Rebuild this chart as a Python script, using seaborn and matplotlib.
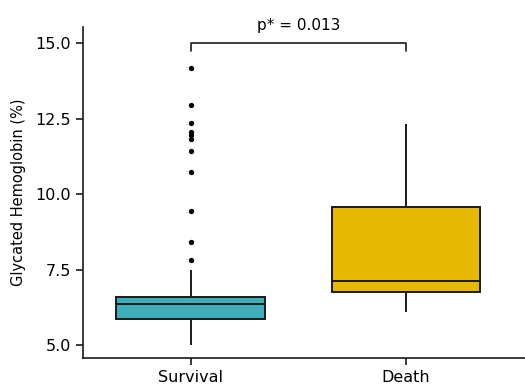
import pandas as pd
import numpy as np
import matplotlib
matplotlib.use("Agg")
import matplotlib.pyplot as plt
import seaborn as sns

# groups and sample values (sorted), read so that the box stats match the figure
groups = ["Survival", "Death"]
survival = [5.00, 5.20, 5.35, 5.45, 5.52, 5.58, 5.63, 5.67, 5.71, 5.74, 5.77, 5.79, 5.81, 5.83, 5.85,
            5.86,
            5.90, 5.94, 5.98, 6.02, 6.06, 6.10, 6.13, 6.16, 6.19, 6.22, 6.25, 6.28, 6.31, 6.33,
            6.35,
            6.37, 6.39, 6.41, 6.43, 6.45, 6.47, 6.49, 6.51, 6.53, 6.54, 6.55, 6.56, 6.57, 6.58,
            6.60,
            6.70, 6.90, 7.20, 7.50, 7.81, 8.41, 9.44, 10.75, 11.42, 11.81, 11.96, 12.06, 12.36, 12.94, 14.18]
death = [6.10, 6.75, 7.14, 9.58, 12.32]
box_colors = ["#40AEB9", "#E6B800"]
yticks = [5.0, 7.5, 10.0, 12.5, 15.0]
p_label = "p* = 0.013"

df = pd.DataFrame({
    "group": ["Survival"] * len(survival) + ["Death"] * len(death),
    "value": survival + death,
})

sns.set_style("ticks")
plt.rcParams["font.family"] = ["DejaVu Sans"]
plt.rcParams["text.color"] = "black"
plt.rcParams["axes.labelcolor"] = "black"
plt.rcParams["xtick.color"] = "black"
plt.rcParams["ytick.color"] = "black"

fig = plt.figure(figsize=(5.25, 3.88), dpi=100)
ax = fig.add_axes([0.158, 0.077, 0.842, 0.853])

sns.boxplot(data=df, x="group", y="value", hue="group", order=groups, hue_order=groups,
            palette=box_colors, saturation=1, width=0.69, linewidth=1.4, linecolor="#1a1a1a",
            showcaps=False, legend=False, ax=ax,
            flierprops=dict(marker="o", markerfacecolor="black", markeredgecolor="black",
                            markersize=2.8))

ax.set_xlim(-0.5, 1.553)
ax.set_ylim(4.57, 15.53)
ax.set_yticks(yticks)
ax.set_yticklabels([f"{t:.1f}" for t in yticks])
ax.set_xlabel("")
ax.set_ylabel("Glycated Hemoglobin (%)", fontsize=10.5, labelpad=7)
ax.tick_params(axis="both", labelsize=11.5, length=5, width=1.2, color="#1a1a1a")
for side in ["left", "bottom"]:
    ax.spines[side].set_linewidth(1.2)
    ax.spines[side].set_color("#1a1a1a")
sns.despine(ax=ax)

# significance bracket
ax.plot([0, 0, 1, 1], [14.75, 15.0, 15.0, 14.75], color="#1a1a1a", lw=1.2, clip_on=False)
ax.text(0.5, 15.6, p_label, ha="center", va="center", fontsize=11)

fig.savefig("out.png", dpi=100)
